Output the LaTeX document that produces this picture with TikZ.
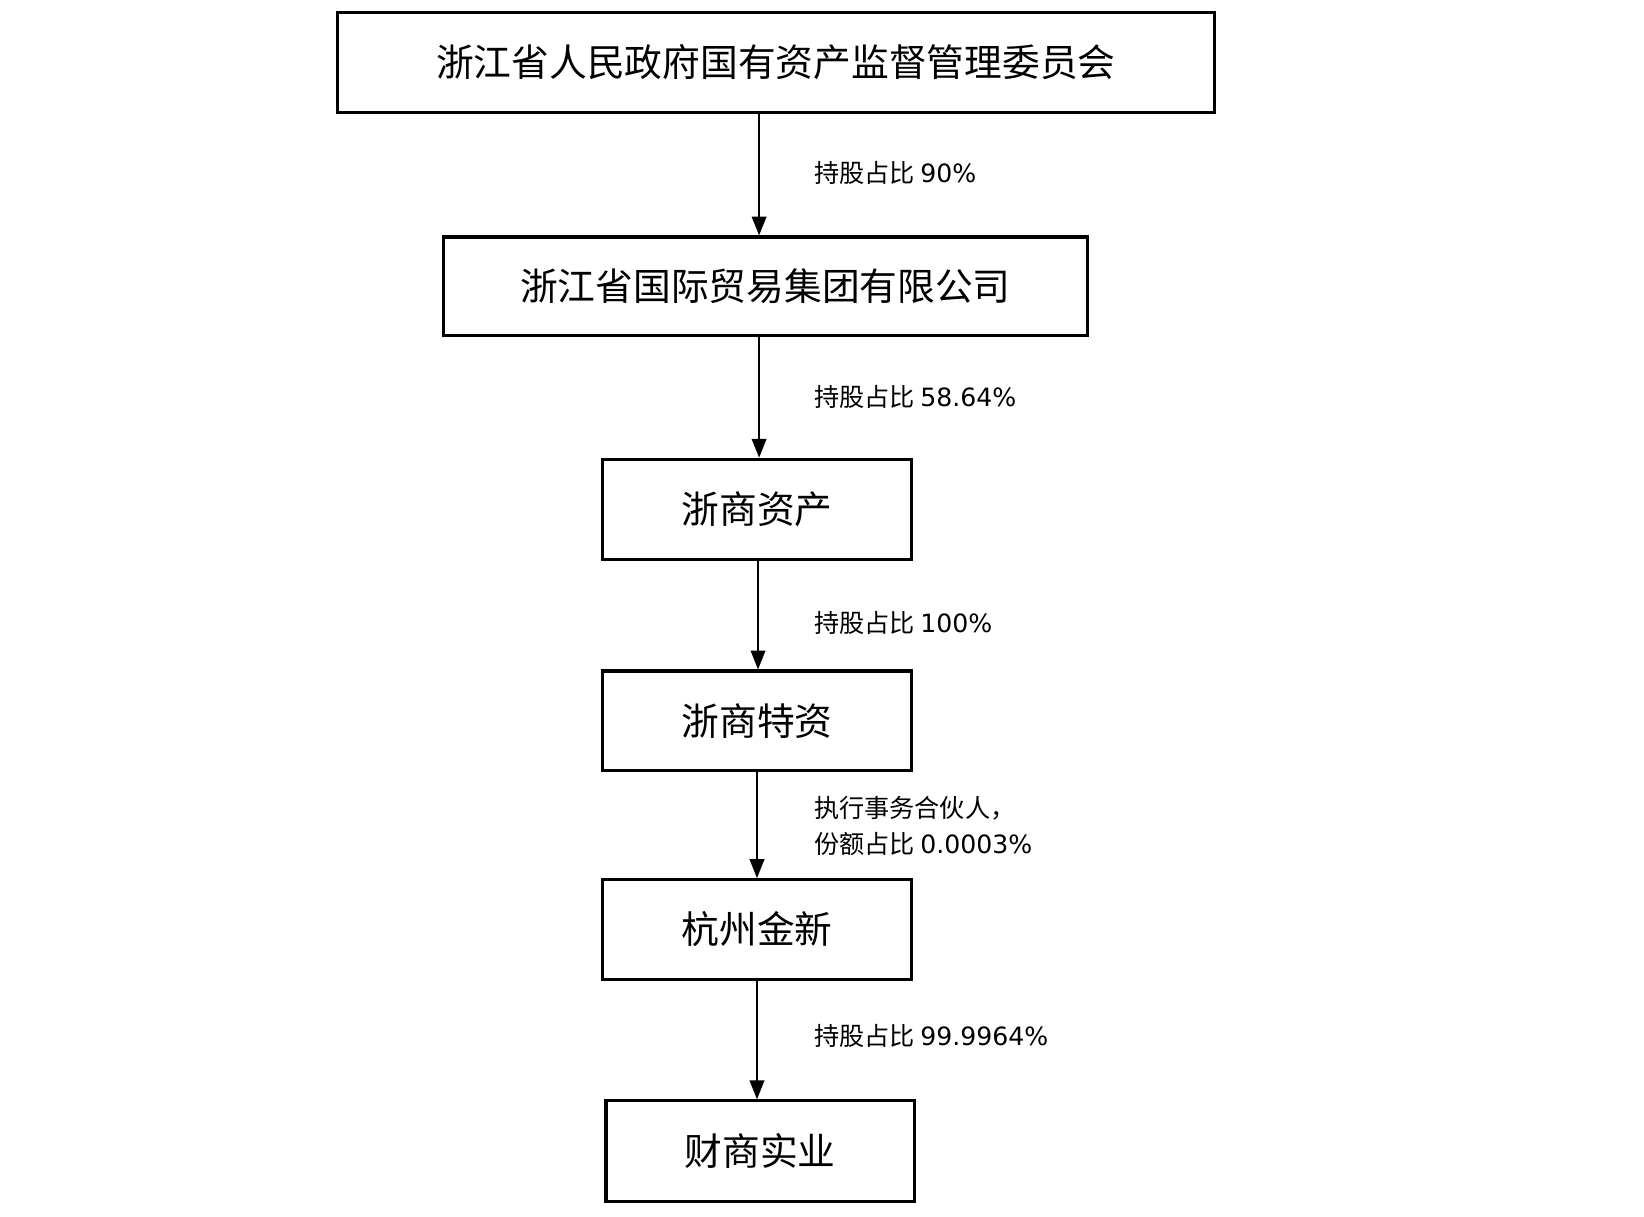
\documentclass[tikz,border=0pt]{standalone}
\usepackage{fontspec}
\setmainfont{Noto Sans CJK SC}
\newfontfamily\dv{DejaVu Sans}
\usetikzlibrary{arrows.meta}
\begin{document}
\begin{tikzpicture}[x=1pt,y=-1pt,
 box/.style={draw,line width=3pt,inner sep=0pt,font=\fontsize{36}{40}\selectfont},
 arr/.style={line width=1.5pt,-{Triangle[length=18pt,width=14pt]}},
 lab/.style={anchor=west,align=left,font=\fontsize{24}{34}\selectfont}]
\useasboundingbox (0,0) rectangle (1568,1160);
\fill[white] (0,0) rectangle (1568,1160);
\node[box,minimum width=836pt,minimum height=95pt] (a) at (740,59.5) {浙江省人民政府国有资产监督管理委员会};
\node[box,minimum width=614pt,minimum height=94pt] (b) at (730,273) {浙江省国际贸易集团有限公司};
\node[box,minimum width=294pt,minimum height=96pt] (c) at (722,486) {浙商资产};
\node[box,minimum width=294pt,minimum height=95pt] (d) at (722,687.5) {浙商特资};
\node[box,minimum width=294pt,minimum height=95pt] (e) at (722,886.5) {杭州金新};
\node[box,minimum width=294pt,minimum height=96pt] (f) at (725,1098) {财商实业};
\draw[arr] (724,107) -- (724,224.5);
\draw[arr] (724,320) -- (724,436.5);
\draw[arr] (723,534) -- (723,638.5);
\draw[arr] (722,735) -- (722,837.5);
\draw[arr] (722,934) -- (722,1048.5);
\node[lab] (l1) at (773,165) {持股占比 {\dv 90\%}};
\node[lab] (l2) at (773,379) {持股占比 {\dv 58.64\%}};
\node[lab] (l3) at (773,594) {持股占比 {\dv 100\%}};
\node[lab] (l4) at (773,788) {执行事务合伙人，\\份额占比 {\dv 0.0003\%}};
\node[lab] (l5) at (773,988) {持股占比 {\dv 99.9964\%}};
\end{tikzpicture}
\end{document}
